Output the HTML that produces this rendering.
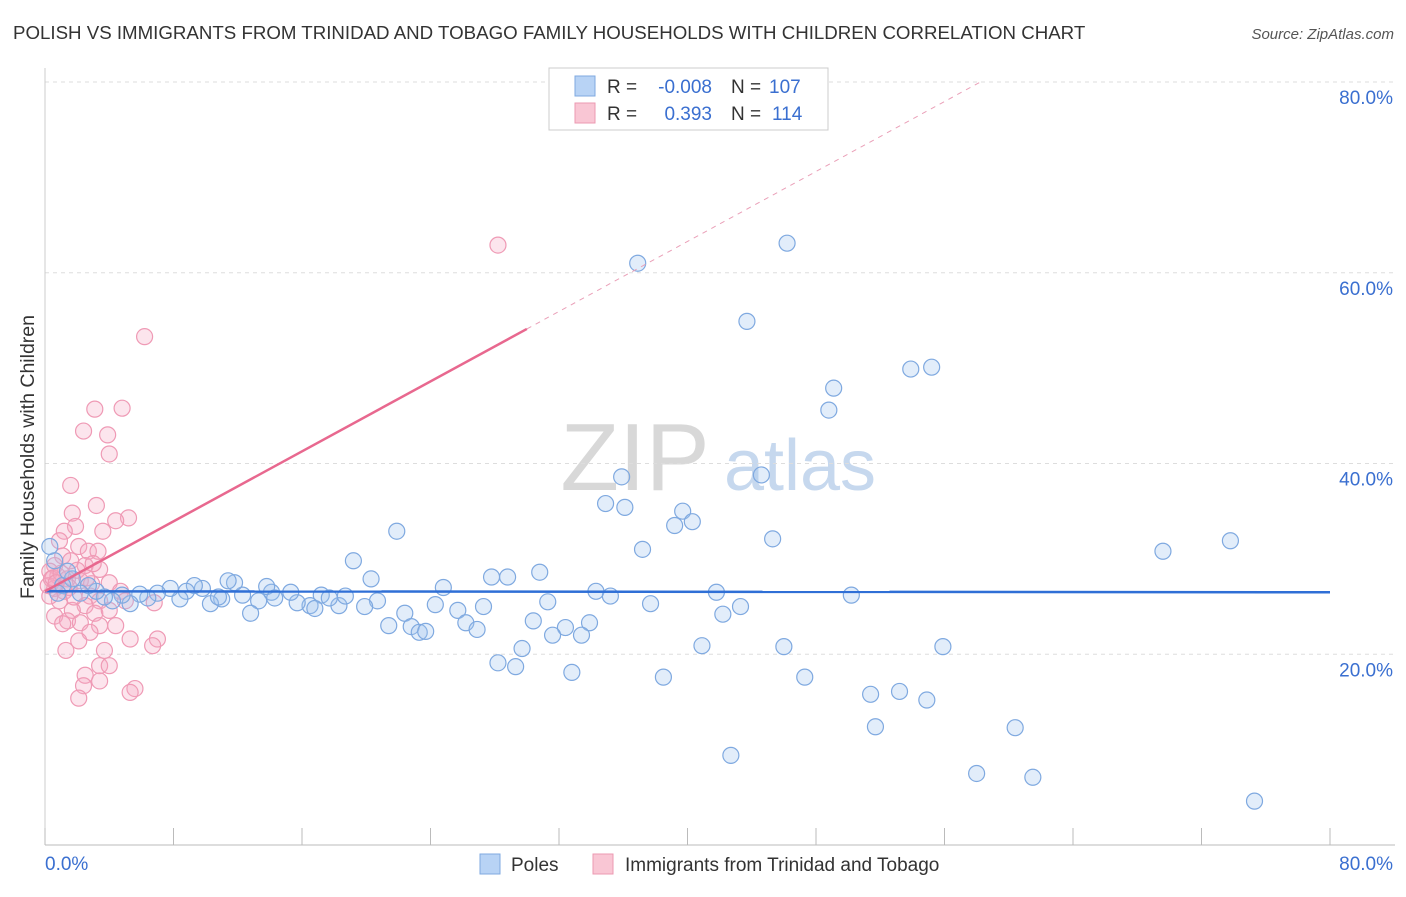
<!DOCTYPE html>
<html><head><meta charset="utf-8"><style>
body{margin:0;background:#fff;font-family:"Liberation Sans",sans-serif;}
svg text{font-family:"Liberation Sans",sans-serif;}
</style></head><body>
<svg id="chart" width="1406" height="892" xmlns="http://www.w3.org/2000/svg">
<text x="13" y="39" font-size="18.7" fill="#333">POLISH VS IMMIGRANTS FROM TRINIDAD AND TOBAGO FAMILY HOUSEHOLDS WITH CHILDREN CORRELATION CHART</text>
<text x="1394" y="39" font-size="15" fill="#555" text-anchor="end" font-style="italic">Source: ZipAtlas.com</text>
<text transform="translate(34,457) rotate(-90)" font-size="19.5" fill="#333" text-anchor="middle">Family Households with Children</text>
<g>
<text x="635" y="490" font-size="96" fill="#d8d8d8" font-family="Liberation Serif" text-anchor="middle">ZIP</text>
<text x="800" y="490" font-size="72" fill="#c6d8ee" text-anchor="middle">atlas</text>
</g>
<g id="grid"></g>
<g id="axes"></g>
<g id="marks"></g>
<g>
<rect x="549" y="68" width="279" height="62" fill="#fff" stroke="#ccc"/>
<rect x="575" y="76" width="20" height="20" fill="#b8d3f5" stroke="#7fa9e0"/>
<rect x="575" y="103" width="20" height="20" fill="#f9c6d4" stroke="#ec99b2"/>
<text x="607" y="93" font-size="19" fill="#333">R =</text>
<text x="712" y="93" font-size="19" fill="#3a6fd0" text-anchor="end">-0.008</text>
<text x="731" y="93" font-size="19" fill="#333">N =</text>
<text x="769" y="93" font-size="19" fill="#3a6fd0">107</text>
<text x="607" y="120" font-size="19" fill="#333">R =</text>
<text x="712" y="120" font-size="19" fill="#3a6fd0" text-anchor="end">0.393</text>
<text x="731" y="120" font-size="19" fill="#333">N =</text>
<text x="772" y="120" font-size="19" fill="#3a6fd0">114</text>
</g>
<g>
<rect x="480" y="854" width="20" height="20" fill="#b8d3f5" stroke="#7fa9e0"/>
<text x="511" y="871" font-size="19" fill="#333">Poles</text>
<rect x="593" y="854" width="20" height="20" fill="#f9c6d4" stroke="#ec99b2"/>
<text x="625" y="871" font-size="19" fill="#333">Immigrants from Trinidad and Tobago</text>
</g>
</svg>
<script>
const yTicks=[20,40,60,80];
const yTickLabels=["20.0%","40.0%","60.0%","80.0%"];
const xEndLabels=["0.0%","80.0%"];
const polesX=[36.9,46.2,43.7,49.1,48.8,53.9,55.2,35.9,44.6,34.9,36.1,39.7,39.2,40.3,21.9,45.3,37.2,69.6,73.8,19.2,30.8,27.8,28.8,20.3,24.8,34.3,35.2,41.8,50.2,31.3,37.7,43.3,42.2,27.3,24.3,25.7,26.2,26.9,30.4,33.9,32.4,31.6,33.4,29.7,40.9,46.0,55.9,28.2,29.3,32.8,38.5,47.3,51.4,53.2,54.9,51.7,60.4,42.7,58.0,61.5,75.3,20.7,19.9,22.4,21.4,22.8,23.3,23.7,18.3,17.2,17.7,18.7,16.5,16.8,15.7,15.3,14.1,13.8,14.3,13.3,12.8,12.3,11.8,11.4,11.0,10.3,10.8,9.8,9.3,8.8,8.4,7.8,7.0,6.4,5.9,5.3,4.8,4.2,3.7,3.2,2.7,2.2,1.7,1.1,0.6,0.3,0.8,1.4];
const polesY=[61.0,63.1,54.9,47.9,45.6,49.9,50.1,38.6,38.8,35.8,35.4,35.0,33.5,33.9,32.9,32.1,31.0,30.8,31.9,29.8,28.6,28.1,28.1,27.9,27.0,26.6,26.1,26.5,26.2,25.5,25.3,25.0,24.2,25.0,25.2,24.6,23.3,22.6,23.5,23.3,22.8,22.0,22.0,20.6,20.9,20.8,20.8,19.1,18.7,18.1,17.6,17.6,15.8,16.1,15.2,12.4,12.3,9.4,7.5,7.1,4.6,25.6,25.0,24.3,23.0,22.9,22.3,22.4,25.1,26.2,25.9,26.1,25.1,24.8,25.4,26.5,26.5,27.1,25.9,25.6,24.3,26.2,27.5,27.7,25.8,25.3,26.0,26.9,27.2,26.6,25.8,26.9,26.4,25.9,26.3,25.3,26.2,25.6,26.0,26.6,27.2,26.4,27.9,27.2,29.8,31.3,26.4,28.7];
const tntX=[28.2,6.2,3.1,4.8,2.4,3.9,4.0,1.6,3.2,5.2,4.4,3.6,1.7,1.9,1.2,0.9,2.1,2.7,3.3,1.1,1.6,2.5,3.4,0.6,0.3,0.8,1.4,2.2,2.9,0.2,0.6,1.2,4.0,4.7,2.8,3.4,2.5,0.9,1.7,3.1,4.0,5.0,0.6,1.4,2.2,3.4,2.8,2.1,5.3,7.0,6.7,1.3,3.7,3.4,4.0,2.5,3.4,2.4,5.6,5.3,2.1,6.8,4.4,1.1,0.3,0.4,0.5,1.0,1.5,0.7,2.0,1.8,2.6,3.0];
const tntY=[62.9,53.3,45.7,45.8,43.4,43.0,41.0,37.7,35.6,34.3,34.0,32.9,34.8,33.4,32.9,31.9,31.3,30.8,30.8,30.3,29.8,29.3,28.9,29.3,28.7,28.2,27.9,27.7,27.4,27.2,26.9,26.6,27.5,26.6,26.1,25.6,25.1,25.6,24.6,24.3,24.6,25.6,24.0,23.5,23.3,23.0,22.3,21.4,21.6,21.6,20.9,20.4,20.4,18.8,18.8,17.8,17.2,16.7,16.4,16.0,15.4,25.4,23.0,23.2,26.1,27.9,28.0,28.5,27.0,27.5,28.8,26.0,28.0,29.5];
const polesTrend=[26.6,26.5];
const tntTrend=[26.6,0.917];

const X=v=>45+v*(1285/80);
const Y=v=>845-v*(763/80);
const NS="http://www.w3.org/2000/svg";
function mk(tag,attrs,parent){const e=document.createElementNS(NS,tag);for(const k in attrs)e.setAttribute(k,attrs[k]);parent.appendChild(e);return e;}
const grid=document.getElementById('grid'),axes=document.getElementById('axes'),marks=document.getElementById('marks');
yTicks.forEach((t,i)=>{
 const l=mk('line',{x1:45,x2:1395,y1:Y(t),y2:Y(t),stroke:'#ddd','stroke-dasharray':'4,4'},grid);
 
 
 const tx=mk('text',{x:1393,y:Y(t)+22,'font-size':19,fill:'#3a6fd0','text-anchor':'end'},axes);
 tx.textContent=yTickLabels[i];
 
 
});
const xa=mk('line',{x1:45,x2:1395,y1:845,y2:845,stroke:'#bbb'},axes);


const ya=mk('line',{x1:45,x2:45,y1:68,y2:845,stroke:'#ccc'},axes);


for(let i=0;i<=10;i++){
 const tk=mk('line',{x1:X(i*8),x2:X(i*8),y1:828,y2:845,stroke:'#bbb'},axes);
 
 
}
const xl0=mk('text',{x:45,y:870,'font-size':19,fill:'#3a6fd0'},axes);xl0.textContent=xEndLabels[0];


const xl1=mk('text',{x:1393,y:870,'font-size':19,fill:'#3a6fd0','text-anchor':'end'},axes);xl1.textContent=xEndLabels[1];


tntX.forEach((x,i)=>{
 const c=mk('circle',{cx:X(x),cy:Y(tntY[i]),r:8,fill:'rgba(246,170,195,0.3)',stroke:'#ef9ab5','stroke-width':1.2},marks);
 
 
});
polesX.forEach((x,i)=>{
 const c=mk('circle',{cx:X(x),cy:Y(polesY[i]),r:8,fill:'rgba(160,196,240,0.3)',stroke:'#7fa9e0','stroke-width':1.2},marks);
 
 
});
const bl=mk('line',{x1:X(0),x2:X(80),y1:Y(polesTrend[0]),y2:Y(polesTrend[1]),stroke:'#2f6fd6','stroke-width':2.5},marks);


const pl=mk('line',{x1:X(0),x2:X(30),y1:Y(tntTrend[0]),y2:Y(tntTrend[0]+30*tntTrend[1]),stroke:'#e8688f','stroke-width':2.5},marks);


const xEnd=(80-tntTrend[0])/tntTrend[1];
const pd=mk('line',{x1:X(30),x2:X(xEnd),y1:Y(tntTrend[0]+30*tntTrend[1]),y2:Y(80),stroke:'#eaa0b8','stroke-width':1,'stroke-dasharray':'5,5'},marks);


</script>
</body></html>
